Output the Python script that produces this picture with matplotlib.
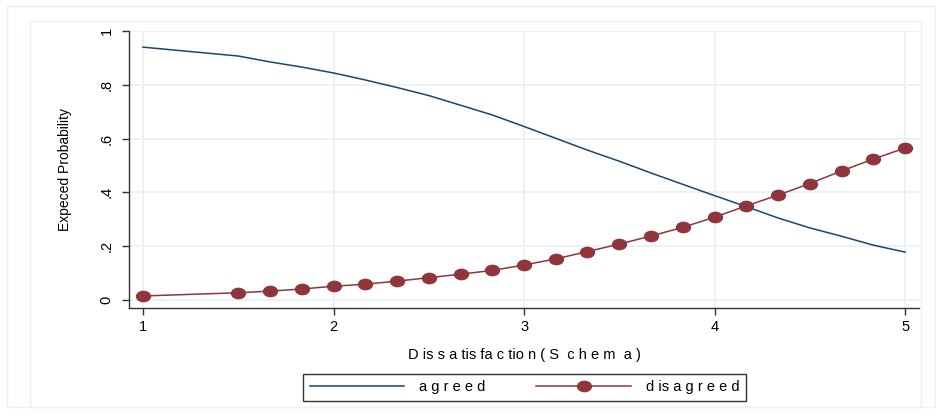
import matplotlib.pyplot as plt
import numpy as np
from matplotlib.path import Path
from matplotlib.transforms import Affine2D
from matplotlib.patches import Rectangle

plt.rcParams['font.family'] = ['Liberation Sans', 'DejaVu Sans']

# data
x = [1.0, 1.5, 1.667, 1.833, 2.0, 2.167, 2.333, 2.5, 2.667, 2.833, 3.0,
     3.167, 3.333, 3.5, 3.667, 3.833, 4.0, 4.167, 4.333, 4.5, 4.667, 4.833, 5.0]
agreed = [0.940, 0.907, 0.885, 0.866, 0.844, 0.818, 0.790, 0.760, 0.724, 0.688, 0.645,
          0.601, 0.557, 0.516, 0.472, 0.430, 0.388, 0.347, 0.305, 0.268, 0.237, 0.204, 0.178]
disagreed = [0.015, 0.027, 0.033, 0.041, 0.051, 0.059, 0.070, 0.083, 0.096, 0.110, 0.130,
             0.153, 0.180, 0.208, 0.238, 0.270, 0.308, 0.350, 0.390, 0.433, 0.480, 0.524, 0.565]
xticks = [1, 2, 3, 4, 5]
yticks = [0, 0.2, 0.4, 0.6, 0.8, 1.0]
yticklabels = ['0', '.2', '.4', '.6', '.8', '1']

NAVY = '#1a476f'
MAROON = '#90353b'
GRID = '#eaf2f3'

W, H = 936, 417
fig = plt.figure(figsize=(W / 100, H / 100), dpi=100)

# faint outer frames (stata graph region)
fig.add_artist(Rectangle((7 / W, 1 - 407 / H), (935 - 7) / W, (407 - 6) / H,
                         transform=fig.transFigure, fill=False, ec=GRID, lw=1))
fig.add_artist(Rectangle((30 / W, 1 - 407 / H), (921 - 30) / W, (407 - 21) / H,
                         transform=fig.transFigure, fill=False, ec=GRID, lw=1))

ax = fig.add_axes([129 / W, 1 - 308 / H, 790 / W, 277 / H])
ax.set_xlim(0.9265, 5.073)
ax.set_ylim(-0.0297, 1.0)

for s in ['top', 'right']:
    ax.spines[s].set_visible(False)
for s in ['left', 'bottom']:
    ax.spines[s].set_color('#333333')
    ax.spines[s].set_linewidth(1.0)

ax.set_xticks(xticks)
ax.set_yticks(yticks)
ax.set_yticklabels(yticklabels, rotation=90, va='center')
ax.tick_params(direction='out', length=5, width=1, color='#333333', labelsize=10.5)
ax.tick_params(axis='y', pad=6)
ax.grid(True, color=GRID, lw=1.4)
ax.set_axisbelow(True)

ellipse = Path.unit_circle().transformed(Affine2D().scale(1.35, 1.0))

ax.plot(x, agreed, color=NAVY, lw=1.1, label='a g r e e d')
ax.plot(x, disagreed, color=MAROON, lw=1.1, marker=ellipse, markersize=10,
        label='d is a g r e e d')

ax.set_xlabel('D is s a tis fa c tio n ( S  c h e m  a )', fontsize=10.5, labelpad=10)
ax.set_ylabel('Expeced Probability', fontsize=10, labelpad=20)

leg = fig.legend(loc='center', bbox_to_anchor=(524.5 / W, 1 - 387.5 / H), ncol=2,
                 frameon=True, fancybox=False, edgecolor='black', fontsize=10.5,
                 handlelength=6.5, columnspacing=3.5, handletextpad=1.0,
                 borderpad=0.45)
leg.get_frame().set_linewidth(1.0)

fig.savefig('out.png', dpi=100)
